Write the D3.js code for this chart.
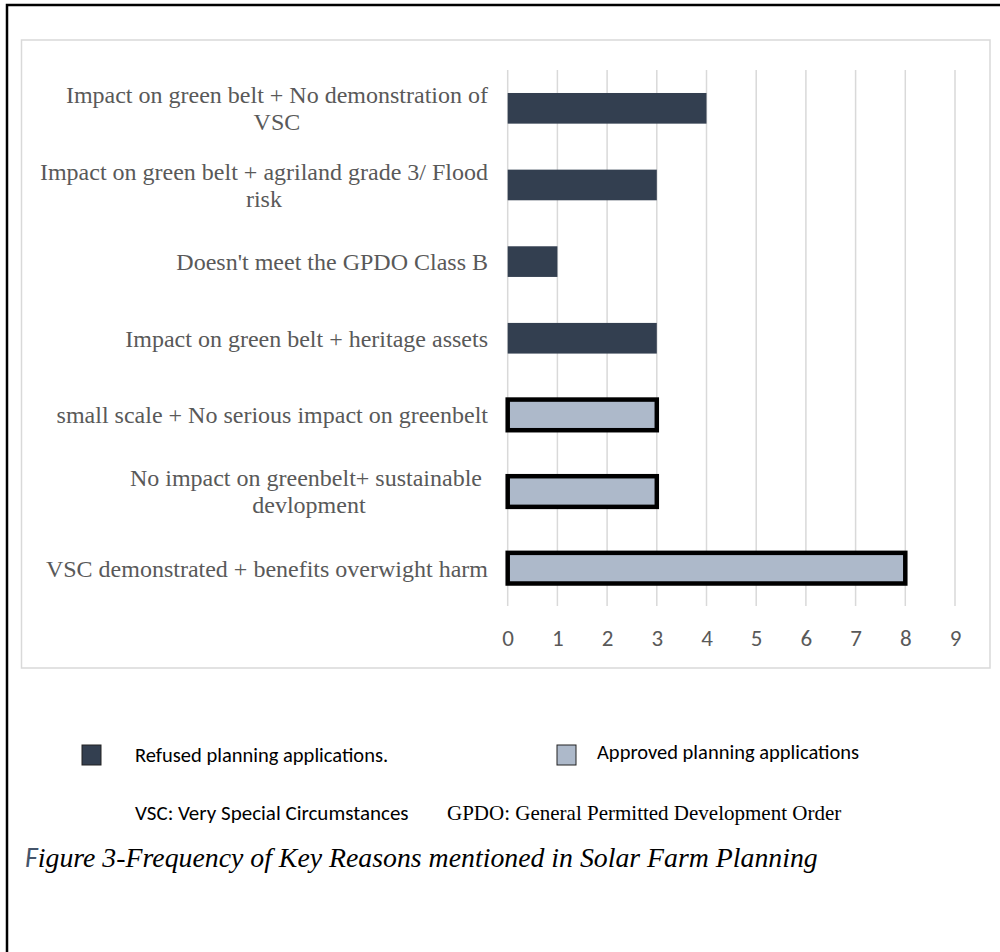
<!DOCTYPE html>
<html>
<head>
<meta charset="utf-8">
<script src="https://cdn.jsdelivr.net/npm/d3@7/dist/d3.min.js"></script>
<style>
  html, body { margin: 0; padding: 0; background: #fff; }
  svg { display: block; }
</style>
</head>
<body>
<svg id="chart" width="1000" height="952"></svg>
<script>
// Reasons, top to bottom; "\n" marks a line break in the axis label
const reasons = [
  "Impact on green belt + No demonstration of\nVSC",
  "Impact on green belt + agriland grade 3/ Flood\nrisk",
  "Doesn't meet the GPDO Class B",
  "Impact on green belt + heritage assets",
  "small scale + No serious impact on greenbelt",
  "No impact on greenbelt+ sustainable \ndevlopment",
  "VSC demonstrated + benefits overwight harm"
];
const counts = [4, 3, 1, 3, 3, 3, 8];
const outcome = ["Refused", "Refused", "Refused", "Refused", "Approved", "Approved", "Approved"];
const xTicks = [0, 1, 2, 3, 4, 5, 6, 7, 8, 9];
const legendItems = ["Refused planning applications.", "Approved planning applications"];

const colors = { Refused: "#333f50", Approved: "#adb9ca" };
const sans = "Carlito, Lato, 'Open Sans', sans-serif";
const serif = "'Liberation Serif', 'Times New Roman', serif";

const svg = d3.select("#chart");

// page frame (top and left edges)
svg.append("path")
  .attr("d", "M7,952 V5 H1000")
  .attr("fill", "none")
  .attr("stroke", "#000")
  .attr("stroke-width", 2.5);

// chart area outline
svg.append("rect")
  .attr("x", 21.5).attr("y", 40)
  .attr("width", 968.5).attr("height", 628)
  .attr("fill", "#fff")
  .attr("stroke", "#d9d9d9")
  .attr("stroke-width", 1.5);

const x = d3.scaleLinear().domain([0, 9]).range([507.7, 955]);
const y = d3.scaleBand()
  .domain(d3.range(reasons.length))
  .range([70, 606.5])
  .paddingInner(0.6)
  .paddingOuter(0.3);

// vertical gridlines
svg.append("g")
  .selectAll("line")
  .data(xTicks)
  .join("line")
  .attr("x1", d => x(d)).attr("x2", d => x(d))
  .attr("y1", 70).attr("y2", 606)
  .attr("stroke", "#d9d9d9")
  .attr("stroke-width", 1.5);

// x axis tick labels
const xAxis = d3.axisBottom(x).tickValues(xTicks).tickSize(0).tickPadding(0);
const gx = svg.append("g")
  .attr("transform", "translate(0,638)")
  .call(xAxis);
gx.select(".domain").remove();
gx.selectAll("text")
  .attr("dy", "0.35em")
  .attr("y", 0)
  .attr("font-family", sans)
  .attr("font-size", 23)
  .attr("fill", "#595959");

// bars
svg.append("g")
  .selectAll("rect")
  .data(counts)
  .join("rect")
  .attr("x", x(0))
  .attr("y", (d, i) => y(i))
  .attr("width", d => x(d) - x(0))
  .attr("height", y.bandwidth())
  .attr("fill", (d, i) => colors[outcome[i]])
  .attr("stroke", (d, i) => outcome[i] === "Approved" ? "#000" : "none")
  .attr("stroke-width", 4.5);

// category labels: centred lines, block right-aligned against the plot
const labelRight = 488;
const lineH = 27;
const labels = svg.append("g")
  .attr("font-family", serif)
  .attr("font-size", 24)
  .attr("fill", "#595959");

reasons.forEach((r, i) => {
  const lines = r.split("\n");
  const t = labels.append("text")
    .attr("text-anchor", "middle")
    .style("white-space", "pre");
  const spans = lines.map(ln => t.append("tspan").text(ln));
  const widths = spans.map(s => s.node().getComputedTextLength());
  const cx = labelRight - d3.max(widths) / 2;
  const cy = y(i) + y.bandwidth() / 2;
  const top = cy - (lines.length - 1) * lineH / 2;
  spans.forEach((s, k) => s.attr("x", cx).attr("y", top + k * lineH).attr("dy", "0.35em"));
});

// legend
const legend = svg.append("g");
const legendPos = [{ sx: 82, sy: 745, tx: 135, ty: 755 }, { sx: 557, sy: 745, tx: 597, ty: 752 }];
legendItems.forEach((name, i) => {
  const p = legendPos[i];
  legend.append("rect")
    .attr("x", p.sx).attr("y", p.sy)
    .attr("width", 19).attr("height", 20)
    .attr("fill", colors[i === 0 ? "Refused" : "Approved"])
    .attr("stroke", "#222")
    .attr("stroke-width", 1);
  legend.append("text")
    .attr("x", p.tx).attr("y", p.ty)
    .attr("dy", "0.35em")
    .attr("font-family", sans)
    .attr("font-size", 20.5)
    .attr("fill", "#000")
    .text(name);
});

// abbreviations
svg.append("text")
  .attr("x", 135).attr("y", 813).attr("dy", "0.35em")
  .attr("font-family", sans)
  .attr("font-size", 21)
  .attr("fill", "#000")
  .text("VSC: Very Special Circumstances");
svg.append("text")
  .attr("x", 447).attr("y", 813).attr("dy", "0.35em")
  .attr("font-family", serif)
  .attr("font-size", 21)
  .attr("fill", "#000")
  .text("GPDO: General Permitted Development Order");

// figure caption
const cap = svg.append("text")
  .attr("x", 25).attr("y", 857).attr("dy", "0.35em")
  .attr("font-style", "italic")
  .attr("font-size", 27.8);
cap.append("tspan")
  .attr("font-family", sans)
  .attr("fill", "#44546a")
  .text("F");
cap.append("tspan")
  .attr("font-family", serif)
  .attr("fill", "#000")
  .text("igure 3-Frequency of Key Reasons mentioned in Solar Farm Planning");
</script>
</body>
</html>
